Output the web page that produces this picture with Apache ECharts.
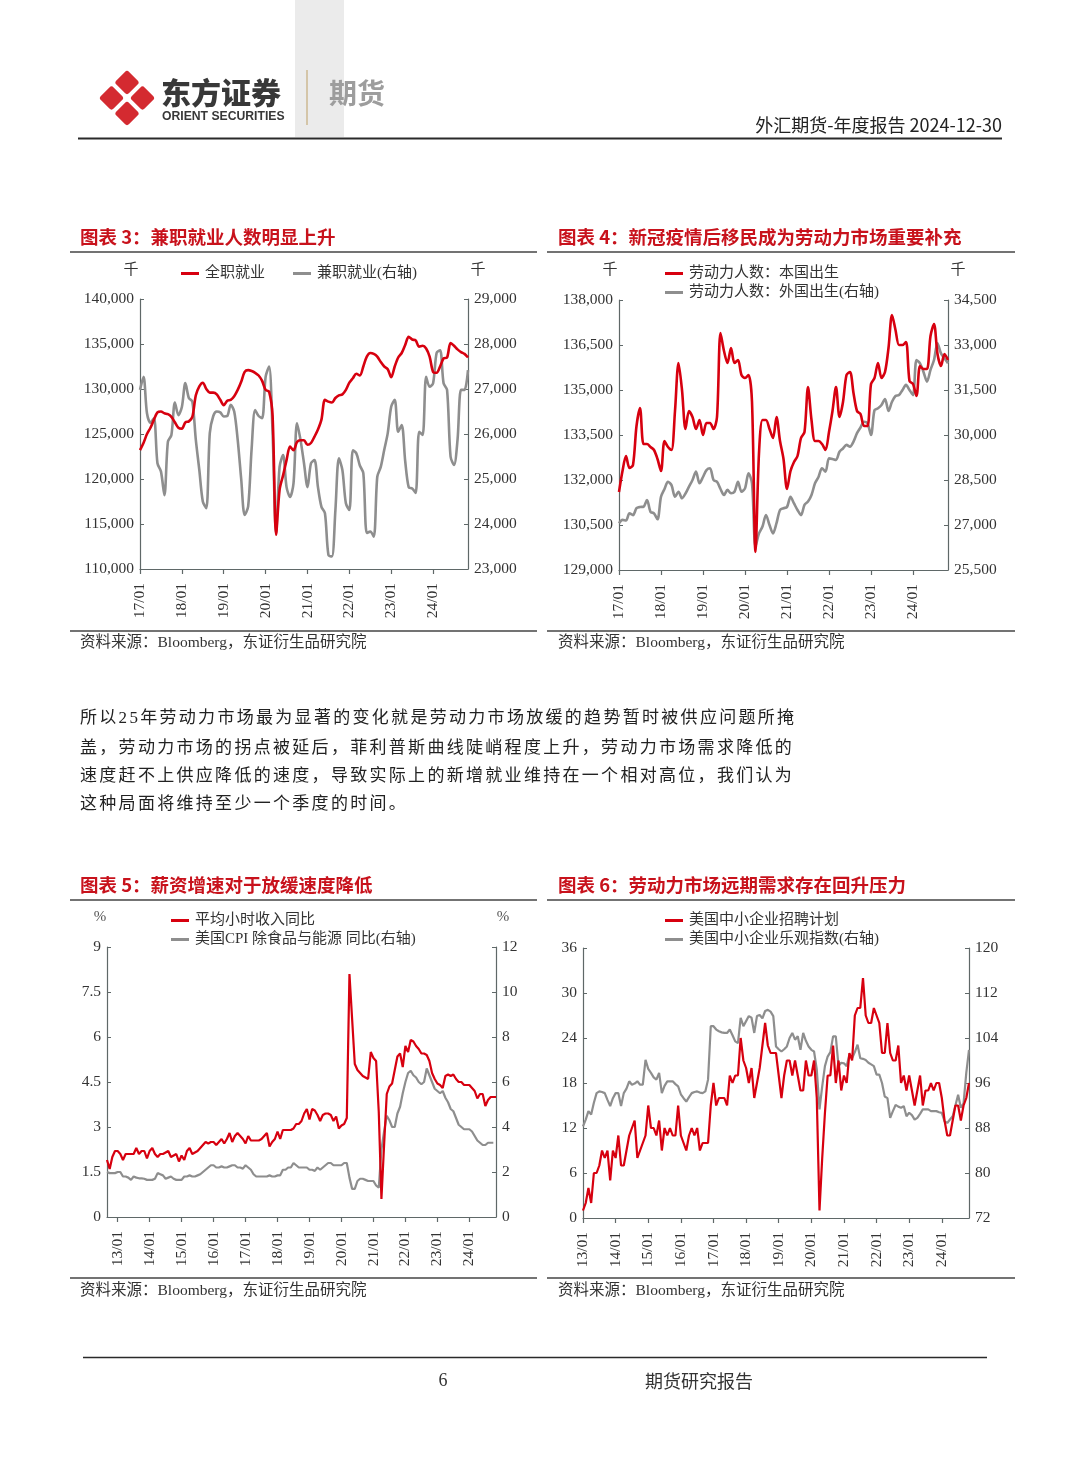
<!DOCTYPE html>
<html>
<head>
<meta charset="utf-8">
<script src="https://cdn.jsdelivr.net/npm/echarts@6/dist/echarts.min.js"></script>
<style>
html,body{margin:0;padding:0;background:#fff;}
#page{position:relative;width:1080px;height:1466px;overflow:hidden;}
#chart{position:absolute;left:0;top:0;width:1080px;height:1466px;}
#para{position:absolute;left:80px;top:702px;font-family:'Noto Sans CJK SC',sans-serif;font-size:17px;letter-spacing:2.3px;line-height:28px;color:#222;}
#para div{white-space:nowrap;}
.num{font-family:'Liberation Serif',serif;}
</style>
</head>
<body>
<div id="page">
<div id="chart"></div>
<div id="para">
<div>所以<span class="num">25</span>年劳动力市场最为显著的变化就是劳动力市场放缓的趋势暂时被供应问题所掩</div>
<div>盖，劳动力市场的拐点被延后，菲利普斯曲线陡峭程度上升，劳动力市场需求降低的</div>
<div>速度赶不上供应降低的速度，导致实际上的新增就业维持在一个相对高位，我们认为</div>
<div>这种局面将维持至少一个季度的时间。</div>
</div>
</div>
<script>
// ---------- data ----------
// Chart 3: monthly 2017-01 .. 2024-11 (thousands)
const c3Full = [123200,124000,125000,125700,126600,127400,127500,127300,127200,126900,
126300,125700,125600,126300,126400,126900,129300,130300,130700,130000,
129600,129600,129400,128800,128200,128700,128800,129200,129900,130800,
131900,132100,132000,131800,131500,130900,129900,129700,127000,113800,
118800,120400,122100,123600,123200,124100,124300,124300,123800,124000,
124700,125500,126600,128800,128600,128500,129000,129300,129400,129900,
130700,131200,131700,131500,132500,133600,134000,133900,133600,133000,
132500,132200,131300,132500,133500,134000,134900,135800,135500,135400,
134700,134800,134500,133600,131900,131800,132500,133400,133500,135100,
134800,134400,134100,133900,133500];
const c3Part = [26980,27270,26460,26250,26350,25350,25170,24640,25830,25980,
26700,26420,26600,27130,26800,26720,25870,25200,24500,24350,
26020,26400,26500,26480,26390,26400,26650,26500,25870,25000,
24200,24390,25680,26530,26400,26350,27270,27500,26020,23800,
25270,25530,24820,24600,24910,26240,25870,25350,24820,25350,
25420,24820,24380,24240,23310,23280,24310,25460,25200,24460,
24310,25640,25570,25300,25130,23800,23830,23720,25050,25270,
25650,26020,26610,26760,26050,26200,25400,24820,24790,24690,
26050,25980,27270,27050,27130,27800,27860,27130,26980,25500,
25310,25870,26980,26980,27420];
// Chart 4: monthly 2017-01 .. 2024-11 (thousands)
const c4Native = [131600,132300,132800,132400,132500,133800,134400,133200,133200,133100,
133000,132700,132300,133300,133100,133000,134300,135900,135000,133700,
134300,134100,133700,134000,133500,133900,133900,133700,134100,136900,
136300,135900,136400,135900,136000,135500,135400,135500,134600,129600,
132900,134000,134000,133700,133400,134100,133300,132700,131700,132300,
132600,132800,133400,133600,135100,134000,133300,133300,133200,133000,
133600,134300,135100,134100,134600,135500,135600,134900,134300,134200,
133800,133800,135200,135400,135900,135400,135600,136400,137500,137000,
136500,136500,136600,135300,135200,134800,135800,135700,135700,136800,
137200,136200,135800,136200,136000];
const c4Foreign = [27060,27170,27150,27390,27330,27560,27600,27610,27830,27440,
27390,27190,27940,28200,28440,28330,27940,28110,27890,28050,
28280,28500,28780,28390,28600,28830,28890,28500,28440,28200,
28000,28170,28060,28110,28440,28110,28220,28720,28390,26280,
26720,26950,27330,27000,26720,27060,27500,27560,27600,27940,
27720,27500,27330,27670,27780,28000,28390,28600,28890,28780,
29220,29200,29170,29440,29550,29670,29610,29780,30060,30250,
30440,30390,30000,30830,30890,31000,31200,30800,31110,31300,
31330,31500,31670,31500,31330,32500,32390,32100,31780,32170,
32500,33060,32720,32560,32390];
// Chart 5: monthly 2012-09 .. 2024-11 (%)
const c5Wage = [1.9,1.6,2.0,2.2,2.2,2.1,1.9,2.1,2.1,2.1,
2.1,2.3,2.1,2.2,2.2,1.95,2.2,2.3,2.1,2.0,
2.1,2.1,2.15,2.2,2.0,2.05,2.1,1.85,2.05,1.9,
2.2,2.3,2.1,2.15,2.2,2.3,2.4,2.5,2.45,2.5,
2.5,2.4,2.5,2.6,2.45,2.6,2.8,2.5,2.7,2.8,
2.7,2.6,2.45,2.7,2.55,2.55,2.55,2.55,2.6,2.7,
2.8,2.35,2.5,2.6,2.85,2.6,2.9,2.9,2.9,2.9,
2.95,3.1,3.1,3.2,3.45,3.6,3.25,3.6,3.55,3.4,
3.2,3.4,3.45,3.45,3.4,3.2,3.35,2.95,3.05,3.1,
3.3,8.1,6.6,5.1,4.9,4.8,4.7,4.65,4.6,5.5,
5.3,5.2,3.5,0.6,2.4,4.1,4.35,4.45,4.9,5.35,
5.45,5.0,5.7,5.5,5.9,5.85,5.7,5.6,5.45,5.45,
5.4,5.2,4.8,4.6,4.45,4.4,4.3,4.7,4.75,4.7,
4.75,4.6,4.5,4.5,4.4,4.4,4.4,4.3,4.2,3.95,
4.1,4.1,3.7,3.9,4.0,4.0,4.0];
const c5Core = [2.0,1.95,1.95,1.95,2.0,2.0,1.8,1.8,1.75,1.65,
1.8,1.75,1.72,1.72,1.7,1.65,1.65,1.65,1.7,1.95,
1.9,1.85,1.7,1.75,1.8,1.7,1.65,1.65,1.65,1.8,
1.8,1.85,1.8,1.8,1.85,1.9,2.0,2.1,2.2,2.3,
2.3,2.2,2.2,2.25,2.2,2.2,2.25,2.3,2.3,2.2,
2.2,2.15,2.3,2.2,2.1,1.9,1.8,1.8,1.8,1.8,
1.8,1.85,1.8,1.8,1.85,1.85,2.1,2.1,2.2,2.2,
2.4,2.3,2.2,2.2,2.2,2.2,2.1,2.1,2.05,2.2,
2.1,2.2,2.3,2.4,2.4,2.3,2.3,2.3,2.3,2.4,
2.4,1.75,1.25,1.25,1.6,1.7,1.7,1.65,1.6,1.6,
1.6,1.4,1.3,3.0,3.8,4.5,4.3,4.0,4.0,4.6,
4.9,5.5,6.0,6.4,6.5,6.3,6.2,6.0,5.9,6.0,
6.6,6.3,6.0,5.7,5.6,5.5,5.6,5.3,5.1,4.8,
4.7,4.4,4.1,4.0,3.9,3.9,3.9,3.8,3.6,3.4,
3.3,3.2,3.2,3.3,3.3,3.3,null];
// Chart 6: monthly 2013-01 .. 2024-11
const c6Hire = [1,2,4,2,6,6,7,9,8,9,
5,9,8,11,7,7,9,11,12,13,
8,9,10,11,15,12,12,11,13,9,
12,11,12,11,11,15,11,10,9,11,
12,11,12,9,10,10,10,15,18,15,
16,16,16,15,19,18,19,19,24,21,
20,18,20,16,18,20,23,26,23,22,
22,22,19,16,19,21,21,19,21,19,
17,17,21,19,19,21,16,1,8,14,
19,19,23,18,21,17,19,18,22,21,
27,28,28,32,27,26,26,28,27,26,
22,22,26,22,21,21,23,18,19,17,
19,17,15,17,19,15,17,17,18,17,
18,18,16,13,11,11,13,15,15,13,
15,16,18];
const c6Opt = [88.3,89.5,91.0,90.4,92.5,94.2,94.5,94.4,94.2,93.0,
91.9,93.3,94.2,94.2,91.9,94.2,95.0,96.3,95.7,95.9,
96.3,95.7,95.7,100.1,98.5,97.8,97.0,96.6,97.8,94.2,
95.5,96.3,96.3,96.3,95.8,95.4,94.0,93.3,92.7,93.5,
94.2,94.4,94.5,94.3,94.2,94.5,96.6,106.1,106.1,105.5,
105.2,105.0,104.9,104.9,105.5,104.5,103.4,103.1,107.6,106.1,
107.0,107.9,107.6,104.9,107.9,108.1,107.5,108.8,109.0,108.7,
107.9,102.5,102.0,101.6,102.0,102.5,104.0,104.9,103.7,104.3,
101.9,104.9,103.5,102.5,101.9,101.6,98.4,91.3,95.4,99.0,
100.7,101.5,104.3,104.3,99.0,99.6,99.5,99.0,101.0,100.4,
101.5,102.8,100.4,100.3,100.1,99.6,99.3,99.0,97.5,97.5,
96.0,93.6,93.3,89.8,91.0,92.1,91.8,91.6,91.9,90.1,
90.7,90.3,89.5,89.8,90.5,91.3,91.3,91.3,91.0,91.0,
91.0,90.8,90.7,89.2,88.9,89.5,90.1,92.0,93.9,91.6,
92.4,97.8,101.9];

// month label generator (YY/MM)
function months(y0, m0, n) {
  const out = []; let y = y0, m = m0;
  for (let i = 0; i < n; i++) {
    out.push(String(y % 100).padStart(2, '0') + '/' + String(m).padStart(2, '0'));
    m++; if (m > 12) { m = 1; y++; }
  }
  return out;
}
const cat3 = months(2017, 1, c3Full.length);
const cat4 = months(2017, 1, c4Native.length);
const cat5 = months(2012, 9, c5Wage.length);
const cat6 = months(2013, 1, c6Hire.length);

const titles = ['图表 3：兼职就业人数明显上升', '图表 4：新冠疫情后移民成为劳动力市场重要补充',
                '图表 5：薪资增速对于放缓速度降低', '图表 6：劳动力市场远期需求存在回升压力'];
const sourceText = '资料来源：Bloomberg，东证衍生品研究院';

// ---------- style ----------
const AX = '#5f6868';
const RED = '#d7000f';
const GRAY = '#8e8e8e';
const TXT = '#333';
const TITLE_RED = '#c8121c';
const FNUM = "'Liberation Serif','Noto Sans CJK SC',serif";
const FCN = "'Noto Sans CJK SC',sans-serif";

const isJan = (i, v) => v.endsWith('/01');
function xAx(g, cats) {
  return { type: 'category', gridIndex: g, data: cats, boundaryGap: false,
    axisLine: { lineStyle: { color: AX, width: 1.2 } },
    axisTick: { interval: isJan, length: 5, lineStyle: { color: AX, width: 1.2 } },
    axisLabel: { interval: isJan, rotate: 90, margin: 14, color: TXT, fontSize: 15.5, fontFamily: FNUM },
    splitLine: { show: false } };
}
function yAx(g, pos, min, max, interval, fmt) {
  return { type: 'value', gridIndex: g, position: pos, min, max, interval,
    axisLine: { show: true, lineStyle: { color: AX, width: 1.2 } },
    axisTick: { show: true, inside: true, length: 4, lineStyle: { color: AX } },
    axisLabel: { color: TXT, fontSize: 15.5, fontFamily: FNUM, margin: 6, formatter: fmt },
    splitLine: { show: false } };
}
const thou = v => v.toLocaleString('en-US');
const plain = v => String(v);

function line(name, xi, yi, data, color, width, smooth, z) {
  return { type: 'line', name, xAxisIndex: xi, yAxisIndex: yi, data, showSymbol: false,
    symbol: 'none', smooth, z, lineStyle: { color, width }, itemStyle: { color },
    connectNulls: false };
}

function T(x, y, text, size, extra) {
  return Object.assign({ type: 'text', x, y, silent: true,
    style: Object.assign({ text, fontSize: size, fontFamily: FNUM, fill: TXT,
      textAlign: 'left', textVerticalAlign: 'middle' }, extra || {}) });
}
function L(x1, y1, x2, y2, w, c) {
  return { type: 'line', silent: true, shape: { x1, y1, x2, y2 }, style: { stroke: c || '#444', lineWidth: w || 1.5 } };
}

const graphics = [
  // header
  { type: 'rect', silent: true, shape: { x: 295, y: 0, width: 49, height: 137 }, style: { fill: '#ebebeb' } },
  ...[[0, -15.5], [15.5, 0], [0, 15.5], [-15.5, 0]].map(([dx, dy]) => ({
    type: 'rect', silent: true, x: 127 + dx, y: 98 + dy, rotation: Math.PI / 4,
    shape: { x: -9, y: -9, width: 18, height: 18, r: 3 }, style: { fill: '#d42a30' } })),
  T(161, 93, '东方证券', 30, { fontFamily: FCN, fontWeight: 900, fill: '#383838' }),
  T(162, 117, 'ORIENT SECURITIES', 12.2, { fontFamily: "'Liberation Sans',sans-serif", fontWeight: 'bold', fill: '#383838' }),
  L(307, 70, 307, 125, 1.5, '#cdb892'),
  T(329, 93, '期货', 28, { fontFamily: FCN, fontWeight: 'bold', fill: '#9d9d9d' }),
  T(1002, 125, '外汇期货-年度报告 2024-12-30', 18, { fontFamily: FCN, textAlign: 'right', fill: '#222' }),
  L(78, 138.5, 1002, 138.5, 2, '#2a2a2a'),
  // chart titles & rules
  T(80, 237, titles[0], 18.5, { fontFamily: FCN, fontWeight: 'bold', fill: TITLE_RED }),
  T(558, 237, titles[1], 18.5, { fontFamily: FCN, fontWeight: 'bold', fill: TITLE_RED }),
  T(80, 885, titles[2], 18.5, { fontFamily: FCN, fontWeight: 'bold', fill: TITLE_RED }),
  T(558, 885, titles[3], 18.5, { fontFamily: FCN, fontWeight: 'bold', fill: TITLE_RED }),
  L(70, 252, 537, 252), L(547, 252, 1015, 252),
  L(70, 631, 537, 631), L(547, 631, 1015, 631),
  L(70, 900, 537, 900), L(547, 900, 1015, 900),
  L(70, 1278, 537, 1278), L(547, 1278, 1015, 1278),
  T(80, 643, sourceText, 15.5), T(558, 643, sourceText, 15.5),
  T(80, 1291, sourceText, 15.5), T(558, 1291, sourceText, 15.5),
  // unit labels
  T(131, 270, '千', 15, { textAlign: 'center' }), T(478, 270, '千', 15, { textAlign: 'center' }),
  T(610, 270, '千', 15, { textAlign: 'center' }), T(958, 270, '千', 15, { textAlign: 'center' }),
  T(100, 917, '%', 15, { textAlign: 'center', fill: '#555' }), T(503, 917, '%', 15, { textAlign: 'center', fill: '#555' }),
  // footer
  L(83, 1357.5, 987, 1357.5, 1.5, '#2a2a2a'),
  T(443, 1381, '6', 18, { textAlign: 'center' }),
  T(645, 1381, '期货研究报告', 18, { fontFamily: FCN, fill: '#333' })
];

function legend(left, top, orient, names, gap) {
  return { left, top, orient, itemWidth: 18, itemHeight: 3, itemGap: gap, icon: 'rect',
    selectedMode: false, data: names,
    textStyle: { fontSize: 15, color: TXT, fontFamily: FNUM, padding: [0, 0, 0, 1] } };
}

const option = {
  animation: false,
  backgroundColor: '#fff',
  graphic: { elements: graphics },
  legend: [
    legend(176, 261, 'horizontal', ['全职就业', '兼职就业(右轴)'], 28),
    legend(660, 261, 'vertical', ['劳动力人数：本国出生', '劳动力人数：外国出生(右轴)'], 4),
    legend(166, 908, 'vertical', ['平均小时收入同比', '美国CPI 除食品与能源 同比(右轴)'], 4),
    legend(660, 908, 'vertical', ['美国中小企业招聘计划', '美国中小企业乐观指数(右轴)'], 4)
  ],
  grid: [
    { left: 140, right: 1080 - 468, top: 299, height: 270 },
    { left: 619, right: 1080 - 948, top: 300, height: 270 },
    { left: 107, right: 1080 - 496, top: 947, height: 270 },
    { left: 583, right: 1080 - 969, top: 948, height: 270 }
  ],
  xAxis: [xAx(0, cat3), xAx(1, cat4), xAx(2, cat5), xAx(3, cat6)],
  yAxis: [
    yAx(0, 'left', 110000, 140000, 5000, thou), yAx(0, 'right', 23000, 29000, 1000, thou),
    yAx(1, 'left', 129000, 138000, 1500, thou), yAx(1, 'right', 25500, 34500, 1500, thou),
    yAx(2, 'left', 0, 9, 1.5, plain), yAx(2, 'right', 0, 12, 2, plain),
    yAx(3, 'left', 0, 36, 6, plain), yAx(3, 'right', 72, 120, 8, plain)
  ],
  series: [
    line('兼职就业(右轴)', 0, 1, c3Part, GRAY, 2.6, 0.3, 2),
    line('全职就业', 0, 0, c3Full, RED, 2.6, 0.3, 3),
    line('劳动力人数：外国出生(右轴)', 1, 3, c4Foreign, GRAY, 2.6, 0.3, 2),
    line('劳动力人数：本国出生', 1, 2, c4Native, RED, 2.6, 0.3, 3),
    line('美国CPI 除食品与能源 同比(右轴)', 2, 5, c5Core, GRAY, 2.2, false, 2),
    line('平均小时收入同比', 2, 4, c5Wage, RED, 2.2, false, 3),
    line('美国中小企业乐观指数(右轴)', 3, 7, c6Opt, GRAY, 2.2, false, 2),
    line('美国中小企业招聘计划', 3, 6, c6Hire, RED, 2.2, false, 3)
  ]
};

const chart = echarts.init(document.getElementById('chart'), null, { renderer: 'canvas', width: 1080, height: 1466 });
chart.setOption(option);
</script>
</body>
</html>
